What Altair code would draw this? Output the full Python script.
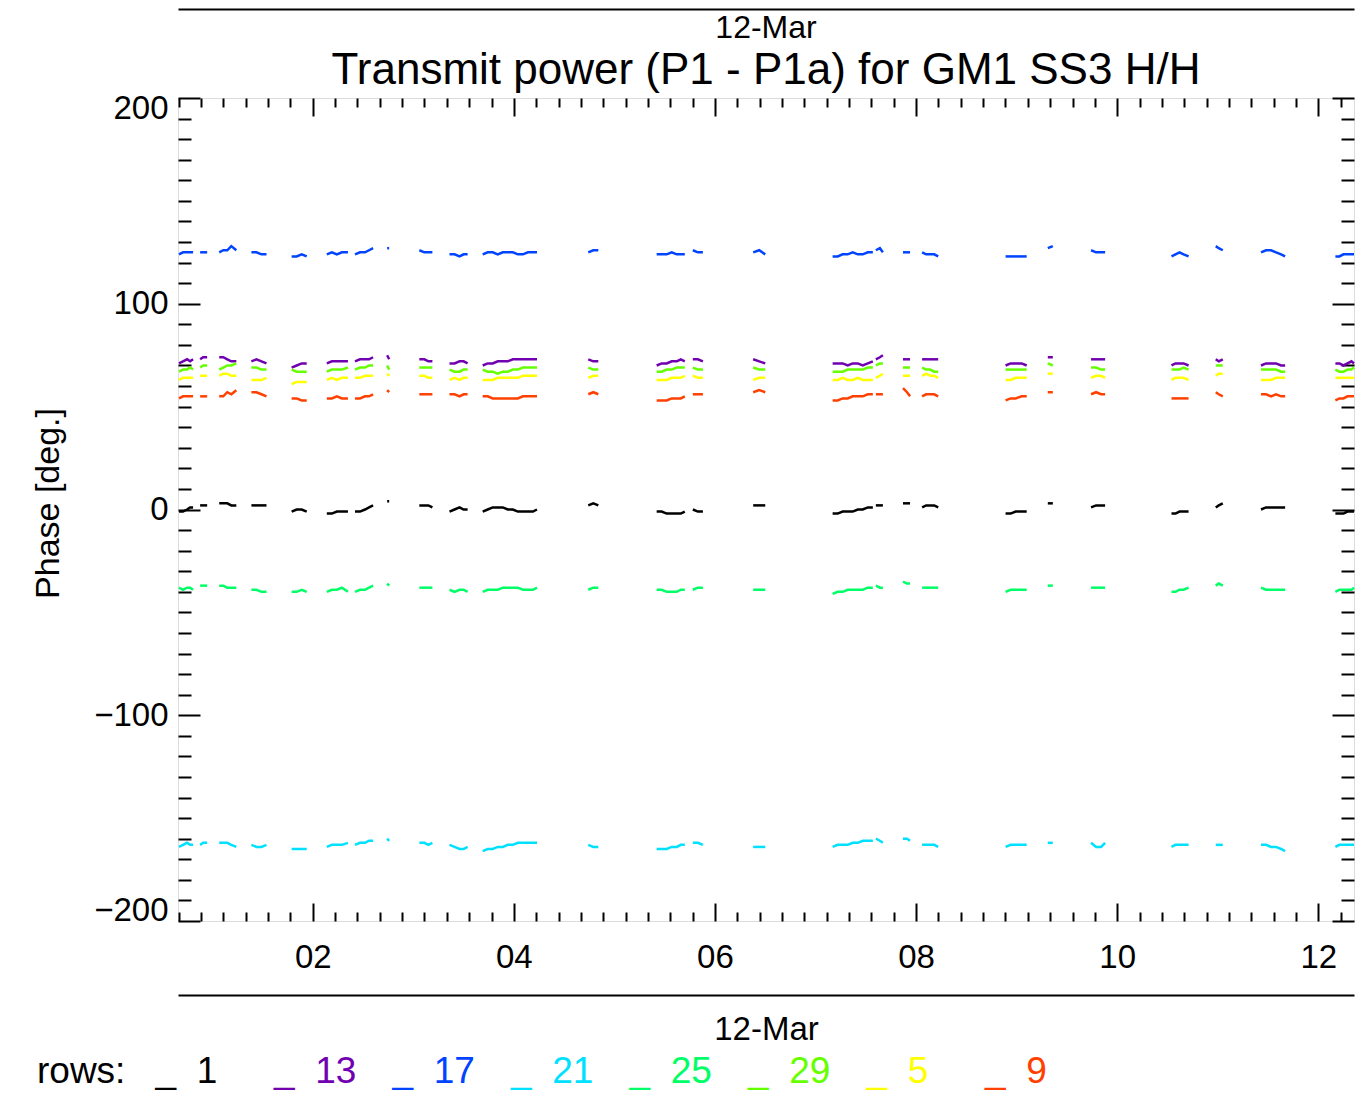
import altair as alt
import pandas as pd

FONT = "Liberation Sans"

# ---- data -------------------------------------------------------------
rows = ["1", "13", "17", "21", "25", "29", "5", "9"]
colors = ["#000000", "#7000b0", "#0044ff", "#00e0ff", "#00ff66", "#66ff00", "#ffff00", "#ff4000"]

seg_times = [
    [0.67, 0.71, 0.75, 0.78, 0.81],
    [0.88, 0.91, 0.95],
    [1.07, 1.11, 1.15, 1.19, 1.24],
    [1.39, 1.44, 1.49, 1.54],
    [1.79, 1.84, 1.89, 1.94],
    [2.14, 2.19, 2.24, 2.29, 2.35],
    [2.42, 2.47, 2.52, 2.56, 2.60],
    [2.74, 2.76],
    [3.06, 3.11, 3.15, 3.19],
    [3.36, 3.41, 3.46, 3.50, 3.54],
    [3.69, 3.74, 3.79, 3.84, 3.89, 3.94, 3.99, 4.04, 4.09, 4.14, 4.19, 4.23],
    [4.74, 4.79, 4.84],
    [5.42, 5.47, 5.52, 5.57, 5.62, 5.66, 5.70],
    [5.78, 5.83, 5.88],
    [6.38, 6.44, 6.50],
    [7.17, 7.22, 7.27, 7.32, 7.37, 7.42, 7.47, 7.52, 7.57],
    [7.60, 7.64, 7.67],
    [7.87, 7.91, 7.94],
    [8.06, 8.10, 8.14, 8.18, 8.22],
    [8.89, 8.94, 8.99, 9.05, 9.10],
    [9.31, 9.36],
    [9.74, 9.79, 9.84, 9.88],
    [10.54, 10.58, 10.62, 10.66, 10.71],
    [10.98, 11.01, 11.05],
    [11.43, 11.48, 11.53, 11.58, 11.63, 11.67],
    [12.17, 12.21, 12.25, 12.29, 12.33, 12.355],
]

row_17 = [
    [124, 125, 125, 125, 125], [125, 125, 125], [125, 126, 126, 128, 126], [125, 125, 124, 124],
    [123, 123, 124, 123], [124, 125, 124, 125, 125], [124, 125, 125, 126, 127], [127, 127],
    [126, 125, 125, 125], [124, 124, 123, 124, 124],
    [124, 125, 125, 124, 125, 125, 125, 124, 124, 125, 125, 125],
    [125, 126, 126], [124, 124, 124, 125, 124, 124, 124], [126, 125, 125], [125, 126, 124],
    [123, 123, 124, 124, 125, 124, 124, 125, 125], [126, 127, 125], [125, 125, 125],
    [125, 124, 124, 124, 123], [123, 123, 123, 123, 123], [127, 128], [126, 125, 125, 125],
    [123, 124, 125, 124, 123], [128, 127, 126], [125, 126, 126, 125, 124, 123],
    [123, 123, 124, 124, 124, 124],
]
row_13 = [
    [71, 72, 73, 72, 73], [73, 74, 74], [74, 74, 73, 72, 72], [72, 73, 72, 71],
    [69, 70, 71, 71], [71, 72, 72, 72, 72], [72, 73, 73, 73, 74], [75, 73],
    [73, 73, 72, 72], [71, 71, 72, 72, 71],
    [70, 71, 71, 72, 72, 72, 73, 73, 73, 73, 73, 73],
    [73, 72, 72], [70, 71, 71, 72, 72, 73, 72], [73, 73, 72], [73, 72, 71],
    [71, 71, 71, 70, 71, 71, 70, 71, 72], [73, 74, 75], [73, 73, 73],
    [73, 73, 73, 73, 73], [70, 71, 71, 71, 70], [74, 74], [73, 73, 73, 73],
    [70, 71, 71, 71, 70], [73, 72, 73], [70, 71, 71, 71, 70, 70],
    [71, 71, 70, 71, 72, 71],
]
row_29 = [
    [67, 68, 68, 69, 68], [69, 70, 70], [68, 69, 70, 70, 71], [69, 69, 68, 68],
    [68, 67, 67, 67], [67, 68, 68, 68, 69], [68, 69, 69, 70, 70], [70, 68],
    [69, 69, 69, 69], [68, 67, 67, 68, 68],
    [68, 67, 67, 66, 67, 67, 68, 68, 69, 69, 69, 69],
    [69, 68, 68], [67, 67, 68, 68, 69, 69, 69], [69, 68, 68], [69, 68, 68],
    [67, 67, 67, 68, 68, 68, 68, 69, 69], [70, 71, 71], [69, 69, 69],
    [69, 68, 68, 67, 67], [68, 68, 68, 68, 68], [71, 70], [69, 69, 68, 68],
    [68, 68, 68, 69, 68], [70, 70, 70], [68, 68, 68, 68, 67, 67],
    [68, 67, 67, 68, 68, 69],
]
row_5 = [
    [63, 64, 64, 64, 64], [65, 65, 65], [65, 66, 66, 65, 65], [63, 63, 63, 64],
    [61, 62, 62, 62], [63, 64, 63, 64, 64], [64, 64, 65, 65, 65], [66, 65],
    [65, 65, 64, 64], [63, 64, 63, 64, 64],
    [63, 63, 63, 64, 64, 64, 64, 64, 65, 65, 65, 65],
    [64, 65, 65], [63, 63, 63, 64, 64, 64, 65], [65, 64, 64], [63, 64, 64],
    [63, 63, 64, 63, 63, 64, 63, 63, 63], [64, 65, 66], [65, 65, 65],
    [65, 66, 65, 65, 64], [63, 63, 64, 64, 64], [66, 66], [64, 65, 65, 64],
    [63, 64, 64, 64, 63], [65, 66, 66], [63, 63, 63, 64, 64, 64],
    [64, 64, 64, 64, 64, 64],
]
row_9 = [
    [54, 55, 55, 55, 55], [55, 55, 55], [55, 55, 57, 56, 58], [57, 57, 56, 55],
    [54, 54, 53, 53], [54, 54, 55, 54, 54], [54, 54, 55, 55, 56], [58, 57],
    [56, 56, 56, 56], [56, 56, 55, 56, 56],
    [55, 55, 54, 54, 54, 54, 54, 54, 55, 55, 55, 55],
    [56, 57, 56], [53, 53, 53, 54, 54, 54, 55], [56, 56, 56], [57, 58, 57],
    [53, 53, 54, 54, 55, 55, 55, 56, 56], [56, 56, 56], [59, 57, 55],
    [55, 56, 56, 56, 55], [53, 54, 54, 55, 55], [57, 57], [56, 57, 56, 56],
    [54, 54, 54, 54, 54], [57, 56, 55], [56, 56, 55, 56, 55, 55],
    [53, 54, 54, 55, 55, 55],
]
row_1 = [
    [-1, -1, 0, 1, 1], [2, 2, 2], [3, 3, 3, 2, 2], [2, 2, 2, 2],
    [-1, 0, 0, -1], [-2, -2, -1, -1, -1], [-1, -1, 0, 1, 2], [4, 4],
    [2, 2, 2, 1], [-1, 0, 1, 0, 0],
    [-1, 0, 1, 1, 1, 0, 0, -1, -1, -1, -1, 0],
    [2, 3, 2], [-1, -1, -2, -2, -2, -2, -1], [0, -1, -1], [2, 2, 2],
    [-2, -2, -1, -1, -1, 0, 0, 1, 1], [2, 2, 2], [3, 3, 3],
    [1, 2, 2, 2, 1], [-2, -2, -1, -1, -1], [3, 3], [1, 2, 2, 2],
    [-2, -2, -1, -1, -1], [1, 2, 3], [0, 1, 1, 1, 1, 1],
    [-2, -2, -2, -1, -1, -1],
]
row_25 = [
    [-38, -39, -38, -38, -39], [-37, -37, -37], [-37, -37, -38, -38, -38], [-39, -39, -40, -40],
    [-40, -40, -39, -40], [-40, -39, -39, -38, -40], [-40, -39, -39, -38, -37], [-36, -37],
    [-38, -38, -38, -38], [-39, -40, -39, -39, -40],
    [-40, -39, -39, -39, -38, -38, -38, -38, -39, -39, -39, -38],
    [-39, -38, -38], [-39, -39, -40, -40, -40, -39, -39], [-39, -38, -38], [-39, -39, -39],
    [-41, -40, -40, -39, -39, -39, -39, -38, -38], [-37, -38, -38], [-35, -36, -36],
    [-38, -38, -38, -38, -38], [-40, -39, -39, -39, -39], [-37, -37], [-38, -38, -38, -38],
    [-40, -40, -39, -39, -38], [-37, -36, -37], [-38, -39, -39, -39, -39, -39],
    [-40, -39, -39, -39, -39, -38],
]
row_21 = [
    [-164, -163, -162, -163, -163], [-163, -162, -162], [-162, -162, -162, -163, -164],
    [-163, -164, -164, -163], [-165, -165, -165, -165], [-164, -163, -163, -163, -162],
    [-163, -162, -162, -161, -161], [-160, -161], [-162, -162, -163, -162],
    [-163, -164, -165, -165, -164],
    [-166, -165, -165, -164, -164, -163, -163, -162, -162, -162, -162, -162],
    [-163, -164, -164], [-165, -165, -165, -164, -164, -163, -163], [-162, -162, -163],
    [-164, -164, -164], [-164, -163, -163, -163, -162, -162, -161, -161, -161],
    [-160, -161, -162], [-160, -160, -161], [-163, -163, -163, -163, -164],
    [-164, -163, -163, -163, -163], [-162, -162], [-162, -164, -164, -162],
    [-164, -163, -163, -163, -163], [-163, -163, -163], [-163, -163, -164, -164, -165, -166],
    [-164, -163, -163, -163, -163, -163],
]

series = {"1": row_1, "13": row_13, "17": row_17, "21": row_21,
          "25": row_25, "29": row_29, "5": row_5, "9": row_9}

x_major = [2, 4, 6, 8, 10, 12]
y_major = [-200, -100, 0, 100, 200]

legend_labels = ["rows:", "_\u00a0\u00a01", "_\u00a0\u00a013", "_\u00a0\u00a017", "_\u00a0\u00a021",
                 "_\u00a0\u00a025", "_\u00a0\u00a029", "_\u00a0\u00a05", "_\u00a0\u00a09"]
legend_colors = ["#000000"] + colors

title_date = "12-Mar"
title_main = "Transmit power (P1 - P1a) for GM1 SS3 H/H"

# ---- table --------------------------------------------------------------
records = []
for r in rows:
    for si, (ts, vs) in enumerate(zip(seg_times, series[r])):
        for t, v in zip(ts, vs):
            records.append({"t": t, "v": v, "row": r, "seg": si})
df = pd.DataFrame(records)

leg_df = pd.DataFrame({"i": list(range(len(legend_labels))),
                       "label": legend_labels, "col": legend_colors})

# ---- layout -------------------------------------------------------------
W, H = 1176, 823
XDOM = [0.66, 12.355]
YDOM = [-200, 200]

x_ticks = [round(2 + k * 2 / 9, 5) for k in range(-6, 47) if XDOM[0] <= 2 + k * 2 / 9 <= XDOM[1]]
y_ticks = list(range(-200, 201, 10))

xs = alt.Scale(domain=XDOM, nice=False, zero=False)
ys = alt.Scale(domain=YDOM, nice=False, zero=False)

x_tick_size = {"condition": {"test": "abs(datum.value/2 - round(datum.value/2)) < 0.001", "value": 18}, "value": 9}
y_tick_size = {"condition": {"test": "datum.value % 100 === 0", "value": 22}, "value": 13}


def tick_axis(orient, offset, values, size):
    return alt.Axis(orient=orient, offset=offset, values=values, tickSize=size,
                    tickWidth=2, tickColor="black", labels=False, domain=False,
                    grid=False, title=None)


lines = alt.Chart(df).mark_line(strokeWidth=2.5).encode(
    x=alt.X("t:Q", scale=xs, axis=alt.Axis(
        values=x_major, labelExpr="datum.value < 10 ? '0' + datum.value : '' + datum.value",
        ticks=False, domain=False, grid=False, labelFontSize=33, labelFont=FONT,
        labelColor="black", labelPadding=20, labelFlush=False, labelOverlap=False, title=None)),
    y=alt.Y("v:Q", scale=ys, axis=alt.Axis(
        values=y_major, ticks=False, domain=False, grid=False, labelFontSize=33,
        labelFont=FONT, labelColor="black", labelPadding=10, labelFlush=True,
        labelFlushOffset=6,
        labelOverlap=False, title="Phase [deg.]", titleFont=FONT, titleFontSize=34,
        titleFontWeight="normal", titleColor="black", titleX=-120, titleY=405,
        titleAngle=270, titleBaseline="alphabetic")),
    color=alt.Color("row:N", scale=alt.Scale(domain=rows, range=colors), legend=None),
    detail="seg:N",
)

ticks_a = alt.Chart(df).mark_point(opacity=0).encode(
    x=alt.X("t:Q", scale=xs, axis=tick_axis("top", -H, x_ticks, x_tick_size)),
    y=alt.Y("v:Q", scale=ys, axis=tick_axis("right", -W, y_ticks, y_tick_size)),
)
ticks_b = alt.Chart(df).mark_point(opacity=0).encode(
    x=alt.X("t:Q", scale=xs, axis=tick_axis("bottom", -H, x_ticks, x_tick_size)),
    y=alt.Y("v:Q", scale=ys, axis=tick_axis("left", -W, y_ticks, y_tick_size)),
)
date_axis = alt.Chart(df).mark_point(opacity=0).encode(
    x=alt.X("t:Q", scale=xs, axis=alt.Axis(
        orient="bottom", offset=74, ticks=False, labels=False, grid=False,
        domain=True, domainColor="black", domainWidth=2,
        title=title_date, titleFont=FONT, titleFontSize=33, titleFontWeight="normal",
        titleColor="black", titlePadding=18)),
)
top_line = alt.Chart(df).mark_point(opacity=0).encode(
    x=alt.X("t:Q", scale=xs, axis=alt.Axis(
        orient="top", offset=89, ticks=False, labels=False, grid=False,
        domain=True, domainColor="black", domainWidth=2, title=None)),
)
legend = alt.Chart(leg_df).mark_text(
    align="left", baseline="alphabetic", font=FONT, fontSize=37
).encode(
    x=alt.X("i:Q", scale=alt.Scale(domain=[0, 8], range=[-141, -141 + 8 * 118.5]), axis=None),
    y=alt.value(985),
    text="label:N",
    color=alt.Color("col:N", scale=None),
)

chart = alt.layer(ticks_a, ticks_b, date_axis, top_line, lines, legend).resolve_scale(
    x="independent", y="independent", color="independent"
).properties(
    width=W, height=H,
    autosize=alt.AutoSizeParams(type="none"),
    padding={"left": 170, "top": 90, "right": 2, "bottom": 172},
    title=alt.TitleParams(
        text=title_date, subtitle=title_main, font=FONT, subtitleFont=FONT,
        fontSize=32, subtitleFontSize=44, fontWeight="normal", color="black",
        subtitleColor="black", anchor="middle", frame="group", offset=6, subtitlePadding=4,
        dy=91),
).configure_view(stroke="black", strokeWidth=2).configure(background="white")

chart.save("out.html", embed_options={"renderer": "svg", "actions": False})
